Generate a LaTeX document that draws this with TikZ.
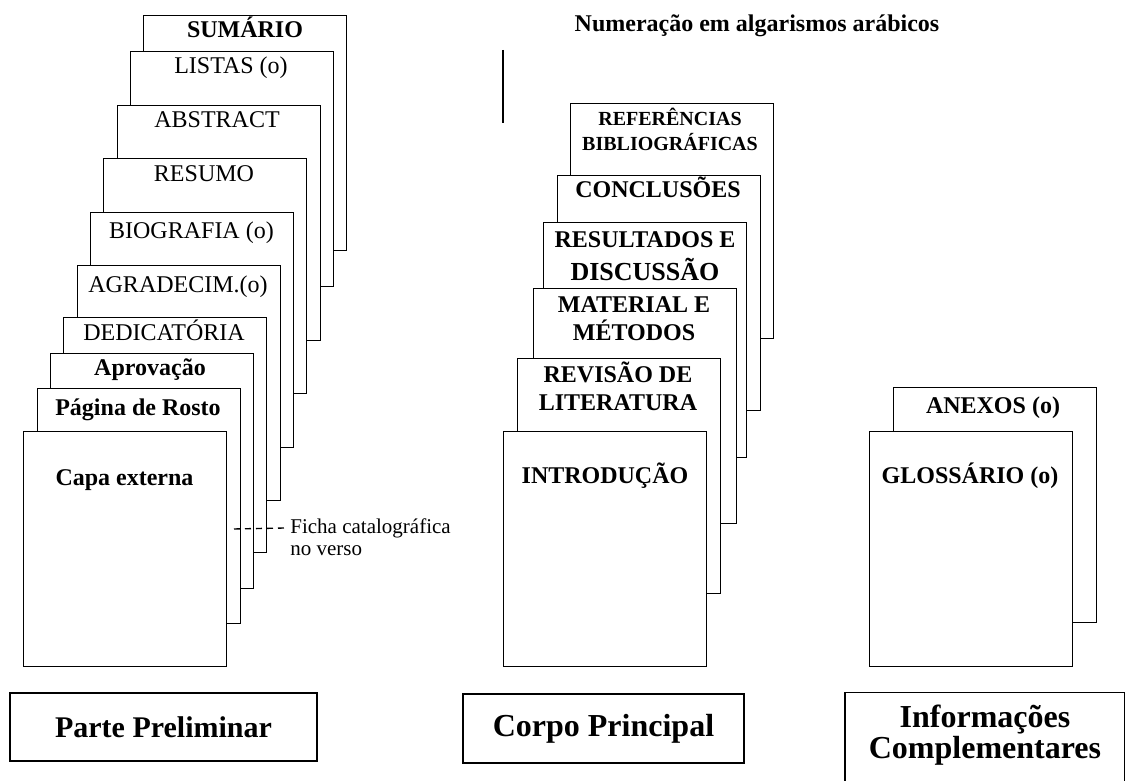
\documentclass[tikz,border=0pt]{standalone}
\usepackage{fontspec}
\setmainfont{Liberation Serif}
\usepackage{tikz}

\begin{document}
\begin{tikzpicture}[x=0.5pt,y=-0.5pt,
  folha/.style={draw,fill=white,line width=0.7pt,anchor=north west,minimum width=101.5pt,minimum height=117.5pt,inner sep=0pt},
  normal/.style={font=\fontsize{12}{14}\selectfont,anchor=base,inner sep=0pt},
  negrito/.style={font=\bfseries\fontsize{12}{14}\selectfont,anchor=base,inner sep=0pt},
  caixa/.style={draw,line width=0.7pt,align=center,inner sep=0pt}]
  \useasboundingbox (0,0) rectangle (1125,781);

  % Parte preliminar (de tras para frente)
  \node[folha] (sumario) at (143,15) {};
  \node[negrito] (tsumario) at (245,38) {SUMÁRIO};
  \node[folha] (listas) at (130,51) {};
  \node[normal] (tlistas) at (231,74) {LISTAS (o)};
  \node[folha] (abstract) at (117,105) {};
  \node[normal] (tabstract) at (217,128) {ABSTRACT};
  \node[folha] (resumo) at (103,158) {};
  \node[normal] (tresumo) at (204,182) {RESUMO};
  \node[folha] (biografia) at (90,212) {};
  \node[normal] (tbiografia) at (191.5,238) {BIOGRAFIA (o)};
  \node[folha] (agradecim) at (77,265) {};
  \node[normal] (tagradecim) at (178,292) {AGRADECIM.(o)};
  \node[folha] (dedicatoria) at (63,317) {};
  \node[normal] (tdedicatoria) at (164,340) {DEDICATÓRIA};
  \node[folha] (aprovacao) at (50,353) {};
  \node[negrito] (taprovacao) at (150,375) {Aprovação};
  \node[folha] (rosto) at (37,388) {};
  \node[negrito] (trosto) at (138,415) {Página de Rosto};
  \node[folha] (capa) at (23,431) {};
  \node[negrito] (tcapa) at (124.5,485) {Capa externa};

  % ficha catalografica
  \coordinate (verso) at (234,529);
  \node[font=\fontsize{10.5}{11}\selectfont,anchor=base west,inner sep=0pt] (ficha) at (290,533) {Ficha catalográfica};
  \node[font=\fontsize{10.5}{11}\selectfont,anchor=base west,inner sep=0pt] (ficha2) at (290,555) {no verso};
  \draw[line width=0.7pt,dash pattern=on 3pt off 2.5pt,shorten >=3pt] (verso) -- (ficha.west);

  % Corpo principal
  \node[negrito] (titulo) at (757,32) {Numeração em algarismos arábicos};
  \coordinate (barra1) at (503,50);
  \coordinate (barra2) at (503,123);
  \draw[line width=0.7pt] (barra1) -- (barra2);

  % base = ultima linha
  \node[folha] (referencias) at (570,103) {};
  \node[negrito,font=\bfseries\fontsize{10}{12.5}\selectfont,align=center] (treferencias) at (670,150) {REFERÊNCIAS\\BIBLIOGRÁFICAS};
  \node[folha] (conclusoes) at (557,175) {};
  \node[negrito] (tconclusoes) at (658,198) {CONCLUSÕES};
  \node[folha] (resultados) at (543,222) {};
  \node[negrito,align=center] (tresultados) at (645,280) {RESULTADOS E\\[2.5pt]{\fontsize{13}{14}\selectfont DISCUSSÃO}};
  \node[folha] (material) at (533,288) {};
  \node[negrito,align=center] (tmaterial) at (634,340) {MATERIAL E\\MÉTODOS};
  \node[folha] (revisao) at (517,358) {};
  \node[negrito,align=center] (trevisao) at (618,410) {REVISÃO DE\\LITERATURA};
  \node[folha] (introducao) at (503,431) {};
  \node[negrito] (tintroducao) at (605,483) {INTRODUÇÃO};

  % Informacoes complementares
  \node[folha] (anexos) at (893,387) {};
  \node[negrito] (tanexos) at (993,413) {ANEXOS (o)};
  \node[folha] (glossario) at (869,431) {};
  \node[negrito] (tglossario) at (970,483) {GLOSSÁRIO (o)};

  % rotulos de baixo
  \node[caixa,minimum width=153.5pt,minimum height=34pt,font=\bfseries\fontsize{15}{16}\selectfont] (preliminar) at (163.5,727) {Parte Preliminar};
  \node[caixa,minimum width=140.5pt,minimum height=34.5pt,font=\bfseries\fontsize{16}{17}\selectfont] (corpo) at (603.5,728.5) {Corpo Principal};
  \node[caixa,minimum width=140pt,minimum height=50pt,anchor=north] (complementares) at (985,692) {};
  \node[negrito,font=\bfseries\fontsize{16}{15.5}\selectfont,align=center] (tcomplementares) at (985,758) {Informações\\Complementares};
\end{tikzpicture}
\end{document}
